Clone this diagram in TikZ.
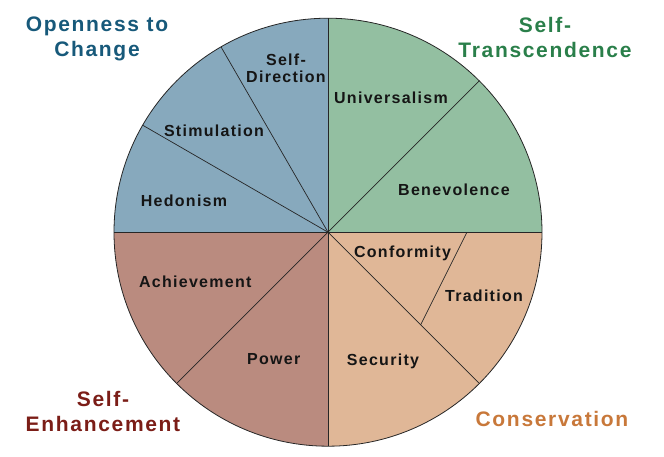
\documentclass[tikz,border=0pt]{standalone}
\usepackage{fontspec}
\setmainfont{Liberation Sans}[LetterSpace=8]
\usepackage{tikz}

\definecolor{openfill}{HTML}{87A9BD}
\definecolor{transfill}{HTML}{93BFA1}
\definecolor{consfill}{HTML}{E0B797}
\definecolor{enhfill}{HTML}{BA8B7F}
\definecolor{opentext}{HTML}{17597A}
\definecolor{transtext}{HTML}{2A7F4A}
\definecolor{constext}{HTML}{C8783A}
\definecolor{enhtext}{HTML}{7B1D17}
\definecolor{labeltext}{HTML}{151515}

\begin{document}
\begin{tikzpicture}[x=1pt,y=1pt,
		lbl/.style={font=\bfseries\fontsize{16}{17}\selectfont,text=labeltext,align=center,inner sep=0pt},
		grp/.style={font=\bfseries\fontsize{21}{25}\selectfont,align=center,inner sep=0pt}]

		\useasboundingbox (-328,-224.8) rectangle (336,232.2);

		% the four quadrants
		\fill [fill=transfill] (0,0) -- (0:214) arc (0:90:214) -- cycle;
		\fill [fill=openfill] (0,0) -- (90:214) arc (90:180:214) -- cycle;
		\fill [fill=enhfill] (0,0) -- (180:214) arc (180:270:214) -- cycle;
		\fill [fill=consfill] (0,0) -- (270:214) arc (270:360:214) -- cycle;

		\foreach \a in {0,45,90,120,150,180,225,270,315}{
				\draw [line width=0.7pt, black!85] (0,0) -- (\a:214);
			}
		\draw [line width=0.7pt, black!85] (139,0) -- (-45:131);
		\draw [line width=0.8pt, black!85] (0,0) circle (214);

		% values
		\node [lbl] (selfdir) at (-42,164) {Self-\\Direction};
		\node [lbl] (stim) at (-114,101.2) {Stimulation};
		\node [lbl] (hedon) at (-144,31.2) {Hedonism};
		\node [lbl] (univ) at (63,134.7) {Universalism};
		\node [lbl] (benev) at (126,42.7) {Benevolence};
		\node [lbl] (conform) at (74.5,-20.8) {Conformity};
		\node [lbl] (trad) at (156,-63.8) {Tradition};
		\node [lbl] (secur) at (55,-128.8) {Security};
		\node [lbl] (achieve) at (-132.7,-49.6) {Achievement};
		\node [lbl] (power) at (-54.2,-126.5) {Power};

		% higher order groups
		\node [grp, text=opentext] (open) at (-231,193) {Openness to\\Change};
		\node [grp, text=transtext] (trans) at (217,195) {Self-\\Transcendence};
		\node [grp, text=enhtext] (enh) at (-225,-179) {Self-\\Enhancement};
		\node [grp, text=constext] (cons) at (224,-187) {Conservation};

		\end{tikzpicture}
\end{document}
